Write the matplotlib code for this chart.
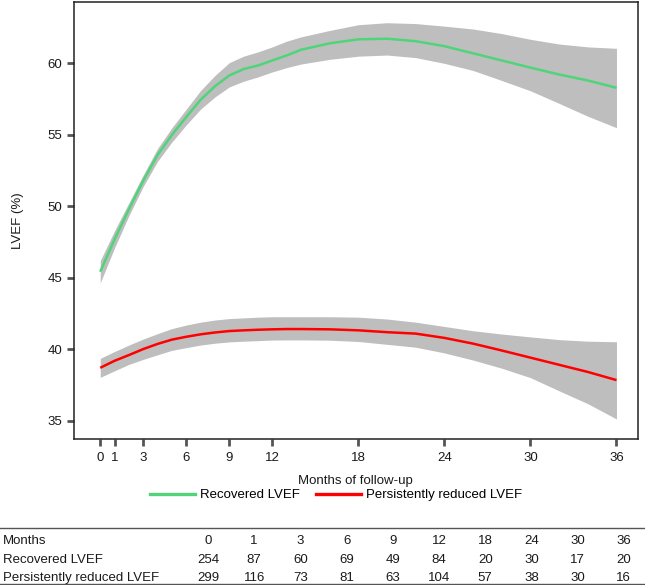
import numpy as np
import matplotlib
matplotlib.use("Agg")
import matplotlib.pyplot as plt
from matplotlib.lines import Line2D

plt.rcParams['font.family'] = ['Liberation Sans', 'DejaVu Sans']

# fitted curves (months of follow-up)
months = [0, 1, 2, 3, 4, 5, 6, 7, 8, 9, 10, 11, 12, 13, 14, 16, 18, 20, 22, 24, 26, 28, 30, 32, 34, 36]

rec_fit = [45.43, 47.7, 49.8, 51.8, 53.6, 55.0, 56.25, 57.45, 58.4, 59.15, 59.6, 59.85, 60.2, 60.55,
           60.95, 61.4, 61.68, 61.72, 61.55, 61.2, 60.7, 60.2, 59.7, 59.22, 58.8, 58.29]
rec_hi = [46.2, 48.3, 50.25, 52.2, 54.05, 55.5, 56.8, 58.1, 59.15, 60.05, 60.5, 60.8, 61.15, 61.55,
          61.85, 62.3, 62.7, 62.84, 62.78, 62.6, 62.4, 62.08, 61.68, 61.35, 61.15, 61.05]
rec_lo = [44.65, 47.1, 49.35, 51.4, 53.15, 54.5, 55.7, 56.8, 57.65, 58.35, 58.75, 59.05, 59.4, 59.7,
          59.95, 60.28, 60.5, 60.58, 60.4, 60.0, 59.5, 58.8, 58.08, 57.2, 56.3, 55.5]

red_fit = [38.71, 39.2, 39.6, 40.02, 40.38, 40.68, 40.88, 41.05, 41.18, 41.28, 41.33, 41.37, 41.4, 41.42,
           41.42, 41.4, 41.33, 41.2, 41.1, 40.8, 40.4, 39.92, 39.42, 38.92, 38.42, 37.85]
red_hi = [39.37, 39.85, 40.3, 40.72, 41.1, 41.45, 41.7, 41.9, 42.05, 42.15, 42.2, 42.25, 42.28, 42.28,
          42.28, 42.28, 42.25, 42.12, 41.9, 41.6, 41.3, 41.07, 40.87, 40.68, 40.57, 40.53]
red_lo = [38.04, 38.5, 38.95, 39.3, 39.62, 39.93, 40.12, 40.3, 40.43, 40.52, 40.57, 40.61, 40.65, 40.66,
          40.66, 40.64, 40.55, 40.35, 40.15, 39.75, 39.25, 38.68, 38.02, 37.1, 36.2, 35.13]

xticks = [0, 1, 3, 6, 9, 12, 18, 24, 30, 36]
yticks = [35, 40, 45, 50, 55, 60]

# numbers at risk table
table_months = ["0", "1", "3", "6", "9", "12", "18", "24", "30", "36"]
n_recovered = [254, 87, 60, 69, 49, 84, 20, 30, 17, 20]
n_reduced = [299, 116, 73, 81, 63, 104, 57, 38, 30, 16]

green = "#4fd47a"
red = "#ff0000"
band = "#bebebe"
fs = 9.5

W, H = 645, 585
fig = plt.figure(figsize=(W / 100, H / 100), dpi=100)
ax = fig.add_axes([74 / W, 1 - 439.3 / H, (637.7 - 74) / W, (439.3 - 1.7) / H])

ax.fill_between(months, rec_lo, rec_hi, color=band, lw=0)
ax.fill_between(months, red_lo, red_hi, color=band, lw=0)
ax.plot(months, rec_fit, color=green, lw=1.8, solid_capstyle='butt')
ax.plot(months, red_fit, color=red, lw=1.8, solid_capstyle='butt')

ax.set_xlim(-1.83, 37.48)
ax.set_ylim(33.71, 64.31)
ax.set_xticks(xticks)
ax.set_yticks(yticks)
for s in ax.spines.values():
    s.set_linewidth(1.1)
    s.set_color("#222222")
ax.tick_params(axis='both', length=5, width=2, color="#555555", labelsize=fs,
               labelcolor="#1a1a1a")
ax.tick_params(axis='x', pad=4)
ax.tick_params(axis='y', pad=3.5)

ax.set_xlabel("Months of follow-up", fontsize=fs, color="#1a1a1a")
ax.xaxis.set_label_coords(0.5, -0.095)
ax.xaxis.label.set_va('center')
ax.set_ylabel("LVEF (%)", fontsize=fs, color="#1a1a1a")
ax.yaxis.set_label_coords(-0.099, 0.5)
ax.yaxis.label.set_va('center')

handles = [Line2D([], [], color=green, lw=2.4), Line2D([], [], color=red, lw=2.4)]
fig.legend(handles, ["Recovered LVEF", "Persistently reduced LVEF"], loc='center',
           bbox_to_anchor=(336 / W, 1 - 495 / H), ncol=2, frameon=False, fontsize=fs,
           handlelength=3.4, handletextpad=0.4, columnspacing=1.2)

# table under the chart
col_x = [208 + 46.2 * i for i in range(len(table_months))]
rows = [("Months", table_months), ("Recovered LVEF", n_recovered),
        ("Persistently reduced LVEF", n_reduced)]
row_y = [541, 560, 578]
for (name, vals), y in zip(rows, row_y):
    fig.text(3 / W, 1 - y / H, name, fontsize=fs, va='center', ha='left', color="#1a1a1a")
    for x, v in zip(col_x, vals):
        fig.text(x / W, 1 - y / H, str(v), fontsize=fs, va='center', ha='center', color="#1a1a1a")
for y in [528, 584]:
    fig.add_artist(Line2D([0, 1], [1 - y / H, 1 - y / H], color="#555555", lw=1.0))

fig.savefig("out.png", dpi=100)
